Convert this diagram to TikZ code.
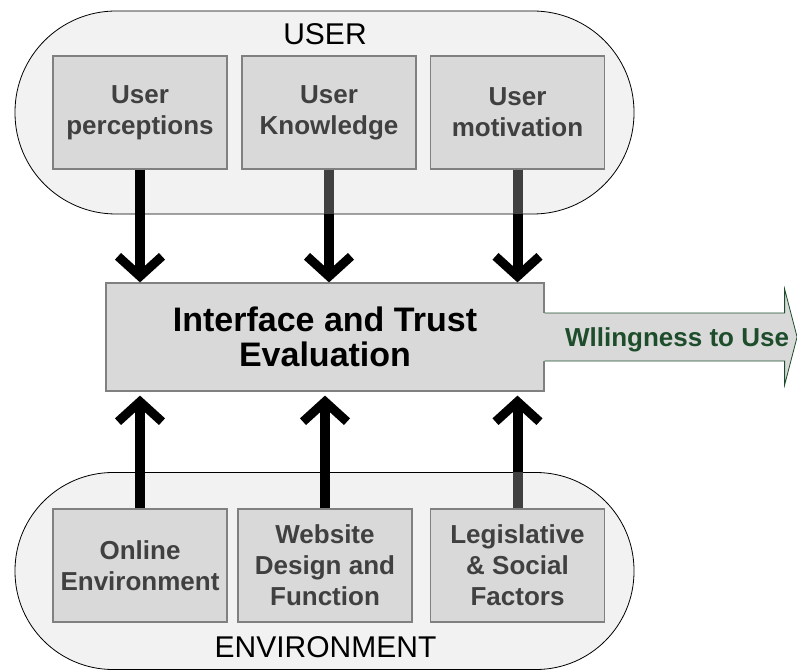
\documentclass[tikz,border=0pt]{standalone}
\usepackage{fontspec}
\setmainfont{Liberation Sans}
\usetikzlibrary{arrows.meta,calc}
\definecolor{stad}{HTML}{F2F2F2}
\definecolor{boxfill}{HTML}{D9D9D9}
\definecolor{boxline}{HTML}{808080}
\definecolor{boxtext}{HTML}{404040}
\definecolor{dgreen}{HTML}{1E4D2B}
\begin{document}
\begin{tikzpicture}[x=1pt,y=-1pt,
  stadium/.style={draw=black, line width=0.8pt, fill=stad, rounded corners=#1, inner sep=0pt},
  factor/.style={draw=boxline, line width=1.2pt, fill=boxfill, minimum width=174pt, minimum height=113pt, inner sep=0pt, text=boxtext, font=\fontsize{26}{31}\selectfont\bfseries, align=center},
  grouplabel/.style={font=\fontsize{30}{36}\selectfont, inner sep=0pt},
  flow/.style={line width=10pt, -{Straight Barb[sharp,length=20pt,width=44pt,line width=9pt]}},
  greyshaft/.style={line width=10pt, draw=boxtext}
]
\useasboundingbox (0,0) rectangle (797,671);
% groups
\node[stadium=101pt, minimum width=619pt, minimum height=203pt] (user) at (324.5,112.5) {};
\node[stadium=98pt, minimum width=619pt, minimum height=197pt] (env) at (324.5,571) {};
\node[grouplabel] (userlbl) at (325,34) {USER};
\node[grouplabel] (envlbl) at (325.5,647.5) {ENVIRONMENT};
% factor boxes
\node[factor] (up) at (140,112.5) {User\\perceptions};
\node[factor] (uk) at (329,112.5) {User\\Knowledge};
\node[factor] (um) at (517.5,112.5) {User\\motivation};
\node[factor] (oe) at (140,565.5) {Online\\Environment};
\node[factor] (wd) at (325,565.5) {Website\\Design and\\Function};
\node[factor] (ls) at (517.5,565.5) {Legislative\\\&~Social\\Factors};
% central box
\node[draw=boxline, line width=1.2pt, fill=boxfill, minimum width=438pt, minimum height=108pt, inner sep=0pt,
      font=\fontsize{34}{35}\selectfont\bfseries, align=center] (eval) at (325,337) {Interface and Trust\\Evaluation};
% output arrow
\fill[boxfill] ($(eval.east)+(-1.5,-24)$) -- ($(eval.east)+(240,-24)$) -- ($(eval.east)+(240,-48)$)
  -- ($(eval.east)+(252.5,0)$) -- ($(eval.east)+(240,48)$) -- ($(eval.east)+(240,24)$)
  -- ($(eval.east)+(-1.5,24)$) -- cycle;
\draw[dgreen, line width=0.8pt] ($(eval.east)+(0,-24)$) -- ($(eval.east)+(240,-24)$) -- ($(eval.east)+(240,-48)$)
  -- ($(eval.east)+(252.5,0)$) -- ($(eval.east)+(240,48)$) -- ($(eval.east)+(240,24)$)
  -- ($(eval.east)+(0,24)$);
\node[text=dgreen, font=\fontsize{26}{31}\selectfont\bfseries, anchor=base, inner sep=0pt] (wtu) at (677,346) {Wllingness to Use};
% flows
\draw[flow] (up.south) -- (up.south |- eval.north);
\draw[flow] (uk.south) -- (uk.south |- eval.north);
\draw[flow] (um.south) -- (um.south |- eval.north);
\draw[flow] (oe.north) -- ($(oe.north |- eval.south)+(0,4)$);
\draw[flow] (wd.north) -- ($(wd.north |- eval.south)+(0,4)$);
\draw[flow] (ls.north) -- ($(ls.north |- eval.south)+(0,4)$);
\draw[greyshaft] (uk.south) -- (uk.south |- user.south);
\draw[greyshaft] (um.south) -- (um.south |- user.south);
\draw[greyshaft] (ls.north) -- (ls.north |- env.north);
\end{tikzpicture}
\end{document}
